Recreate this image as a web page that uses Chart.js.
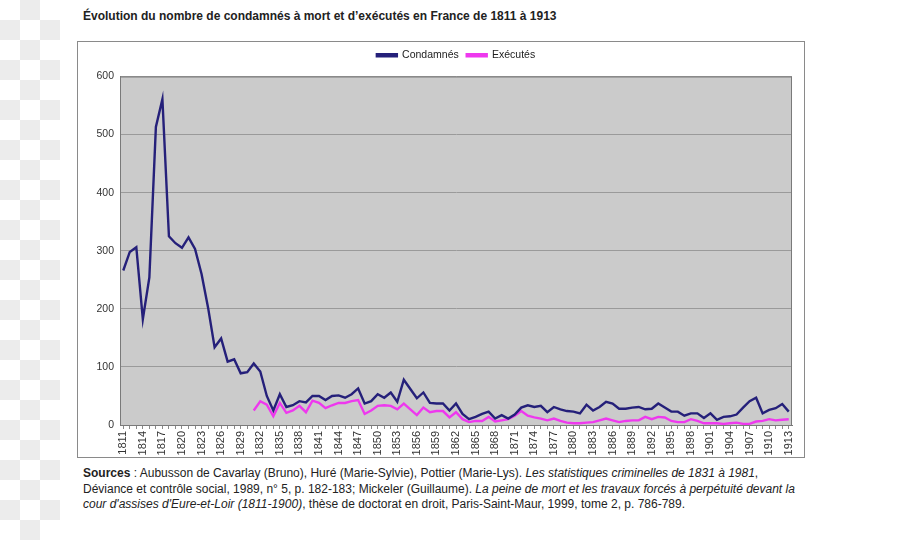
<!DOCTYPE html>
<html lang="fr">
<head>
  <meta charset="UTF-8">
  <title>Condamnés à mort et exécutés en France 1811-1913</title>
  <script src="https://cdn.jsdelivr.net/npm/chart.js"></script>
  <style>
    body { margin: 0; width: 900px; height: 540px; background: #fff; position: relative; overflow: hidden;
           font-family: "Liberation Sans", Arial, sans-serif; }
    .checker { position: absolute; left: 0; top: 0; width: 60px; height: 540px;
               background: repeating-conic-gradient(#ececec 0 25%, #fff 0 50%) 0 0 / 40px 40px; }
    h1 { position: absolute; left: 83px; top: 9px; margin: 0; font-size: 12px; font-weight: bold; color: #222; }
    #box { position: absolute; left: 77px; top: 41px; width: 726px; height: 415px; border: 1px solid #8a8a8a; }
    .src { position: absolute; left: 83px; top: 466px; width: 740px; margin: 0; font-size: 12px; line-height: 15.5px; color: #222; }
  </style>
</head>
<body>
  <div class="checker"></div>
  <h1>Évolution du nombre de condamnés à mort et d’exécutés en France de 1811 à 1913</h1>
  <div id="box"><canvas id="chart" width="726" height="415"></canvas></div>
  <p class="src"><b>Sources</b> : Aubusson de Cavarlay (Bruno), Huré (Marie-Sylvie), Pottier (Marie-Lys). <i>Les statistiques criminelles de 1831 à 1981</i>,<br>Déviance et contrôle social, 1989, n° 5, p. 182-183; Mickeler (Guillaume). <i>La peine de mort et les travaux forcés à perpétuité devant la<br>cour d'assises d'Eure-et-Loir (1811-1900)</i>, thèse de doctorat en droit, Paris-Saint-Maur, 1999, tome 2, p. 786-789.</p>

  <script>
    // années 1811..1913
    const years = [];
    for (let y = 1811; y <= 1913; y++) years.push(String(y));

    // condamnés à mort (1811-1913)
    const condamnes = [
      266, 298, 306, 182, 254, 513, 561, 325, 313, 305,   // 1811-1820
      323, 303, 260, 202, 134, 149, 109, 113, 89, 91,     // 1821-1830
      106, 92, 50, 25, 53, 31, 34, 41, 39, 50,            // 1831-1840
      50, 43, 50, 51, 47, 53, 63, 37, 41, 53,             // 1841-1850
      47, 56, 40, 78, 62, 46, 56, 38, 37, 37,             // 1851-1860
      25, 37, 19, 10, 14, 19, 23, 11, 17, 11,             // 1861-1870
      18, 30, 34, 31, 33, 22, 31, 27, 24, 23,             // 1871-1880
      20, 35, 25, 31, 40, 37, 28, 28, 30, 31,             // 1881-1890
      27, 28, 37, 30, 23, 23, 16, 20, 20, 12,             // 1891-1900
      20, 9, 14, 15, 18, 30, 41, 47, 20, 26,              // 1901-1910
      29, 36, 23                                          // 1911-1913
    ];

    // exécutés (données à partir de 1831)
    const executes = [
      null, null, null, null, null, null, null, null, null, null,   // 1811-1820
      null, null, null, null, null, null, null, null, null, null,   // 1821-1830
      25, 41, 35, 15, 38, 21, 25, 33, 22, 42,             // 1831-1840
      38, 29, 34, 38, 38, 41, 43, 19, 25, 33,             // 1841-1850
      34, 33, 27, 37, 27, 17, 30, 22, 24, 24,             // 1851-1860
      13, 22, 10, 5, 7, 7, 14, 6, 8, 10,                  // 1861-1870
      16, 24, 16, 13, 11, 8, 11, 7, 4, 3,                 // 1871-1880
      3, 4, 5, 8, 11, 8, 5, 7, 8, 8,                      // 1881-1890
      14, 10, 14, 13, 7, 5, 5, 10, 7, 3,                  // 1891-1900
      3, 3, 2, 3, 4, 2, 2, 6, 7, 10,                      // 1901-1910
      8, 9, 10                                            // 1911-1913
    ];

    const yTicks = [0, 100, 200, 300, 400, 500, 600];

    // fond gris + cadre de la zone de tracé
    const plotBg = {
      id: 'plotBg',
      beforeDraw(chart) {
        const { ctx, chartArea: a } = chart;
        ctx.save();
        ctx.fillStyle = '#cbcbcb';
        ctx.fillRect(a.left, a.top, a.right - a.left, a.bottom - a.top);
        ctx.restore();
      },
      afterDatasetsDraw(chart) {
        const { ctx, chartArea: a } = chart;
        ctx.save();
        ctx.strokeStyle = '#7a7a7a';
        ctx.lineWidth = 1;
        ctx.strokeRect(a.left + 0.5, a.top + 0.5, a.right - a.left - 1, a.bottom - a.top);
        ctx.restore();
      }
    };

    // un peu plus d'espace sous la légende
    const legendGap = {
      id: 'legendGap',
      beforeInit(chart) {
        const fit = chart.legend.fit;
        chart.legend.fit = function () {
          fit.bind(chart.legend)();
          this.height += 6;
        };
      }
    };

    const ctx = document.getElementById('chart').getContext('2d');
    new Chart(ctx, {
      type: 'line',
      data: {
        labels: years,
        datasets: [
          { label: 'Condamnés', data: condamnes, borderColor: '#25207a', backgroundColor: '#25207a',
            borderWidth: 2.4, pointRadius: 0, tension: 0 },
          { label: 'Exécutés', data: executes, borderColor: '#ee38ee', backgroundColor: '#ee38ee',
            borderWidth: 2.4, pointRadius: 0, tension: 0 }
        ]
      },
      options: {
        responsive: false,
        animation: false,
        layout: { padding: { left: 0, right: 9, top: 0, bottom: 0 } },
        plugins: {
          legend: {
            position: 'top',
            fullSize: false,
            labels: {
              boxWidth: 20, boxHeight: 2, padding: 8,
              color: '#222', font: { family: 'Liberation Sans', size: 10.5 }
            }
          },
          tooltip: { enabled: false }
        },
        scales: {
          x: {
            offset: true,
            grid: { display: true, drawOnChartArea: false, tickLength: 4, color: '#888' },
            border: { color: '#7a7a7a' },
            ticks: {
              autoSkip: false, maxRotation: 90, minRotation: 90, padding: 2,
              color: '#333', font: { family: 'Liberation Sans', size: 11 },
              callback: (v, i) => (i % 3 === 0 ? years[i] : '')
            },
            afterFit: s => { s.height = 32; }
          },
          y: {
            min: 0, max: 600,
            afterBuildTicks: s => { s.ticks = yTicks.map(v => ({ value: v })); },
            grid: { color: '#9a9a9a', drawTicks: false },
            border: { color: '#7a7a7a' },
            ticks: { padding: 6, color: '#333', font: { family: 'Liberation Sans', size: 10.5 } },
            afterFit: s => { s.width = 42; }
          }
        }
      },
      plugins: [plotBg, legendGap]
    });
  </script>
</body>
</html>
